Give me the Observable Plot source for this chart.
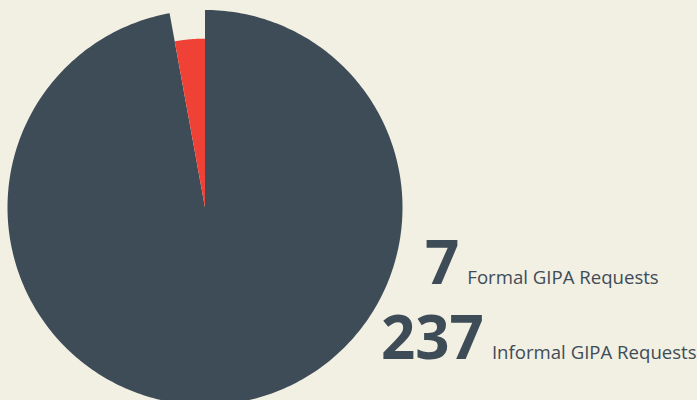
<!DOCTYPE html>
<html>
<head>
<meta charset="utf-8">
<script src="https://cdn.jsdelivr.net/npm/d3@7"></script>
<script src="https://cdn.jsdelivr.net/npm/@observablehq/plot@0.6"></script>
<style>
  html, body { margin: 0; padding: 0; background: #f2efe3; overflow: hidden; }
  #wrap { position: relative; width: 697px; height: 400px; }
  #legend { position: absolute; left: 0; top: 0; width: 697px; height: 400px; pointer-events: none;
            font-family: "Open Sans", sans-serif; color: #3e4c58; }
  .row { position: absolute; white-space: nowrap; display: flex; align-items: baseline; }
  .num { font-weight: 700; font-size: 60px; line-height: 1; }
  .lbl { font-size: 18.6px; margin-left: 8px; }
</style>
</head>
<body>
<div id="wrap"><div id="chart"></div><div id="legend"></div></div>
<script>
const categories = ["Informal GIPA Requests", "Formal GIPA Requests"];
const values = [237, 7];
const colors = ["#3e4c58", "#ef4136"];
const radiusFactor = [1, 0.855];

const W = 697, H = 400, cx = 204.5, cy = 207, R = 197.5;

const arcs = d3.pie().sort(null)(values);
const pts = [];
arcs.forEach((a, i) => {
  const r = radiusFactor[i];
  pts.push({cat: categories[i], x: 0, y: 0});
  const n = 360;
  for (let k = 0; k <= n; k++) {
    const t = a.startAngle + (a.endAngle - a.startAngle) * k / n;
    pts.push({cat: categories[i], x: Math.sin(t) * r, y: Math.cos(t) * r});
  }
  pts.push({cat: categories[i], x: 0, y: 0});
});

const chart = Plot.plot({
  width: W, height: H,
  margin: 0,
  x: {domain: [-cx / R, (W - cx) / R], axis: null},
  y: {domain: [-(H - cy) / R, cy / R], axis: null},
  color: {domain: categories, range: colors},
  style: {background: "#f2efe3"},
  marks: [
    Plot.line(pts, {x: "x", y: "y", z: "cat", fill: "cat", stroke: "none", curve: "linear"})
  ]
});
document.getElementById("chart").appendChild(chart);

const legendRows = [
  {num: values[1], label: categories[1], left: 425, baseline: 284},
  {num: values[0], label: categories[0], left: 381, baseline: 359}
];
const legend = document.getElementById("legend");
legendRows.forEach(r => {
  const div = document.createElement("div");
  div.className = "row";
  div.innerHTML = `<span class="num">${r.num}</span><span class="lbl">${r.label}</span>`;
  legend.appendChild(div);
  div.style.left = r.left + "px";
  div.style.top = "0px";
  const probe = document.createElement("span");
  probe.style.display = "inline-block"; probe.style.width = "0"; probe.style.height = "0";
  div.appendChild(probe);
  const base = probe.getBoundingClientRect().top - div.getBoundingClientRect().top;
  div.style.top = (r.baseline - base) + "px";
});
</script>
</body>
</html>
